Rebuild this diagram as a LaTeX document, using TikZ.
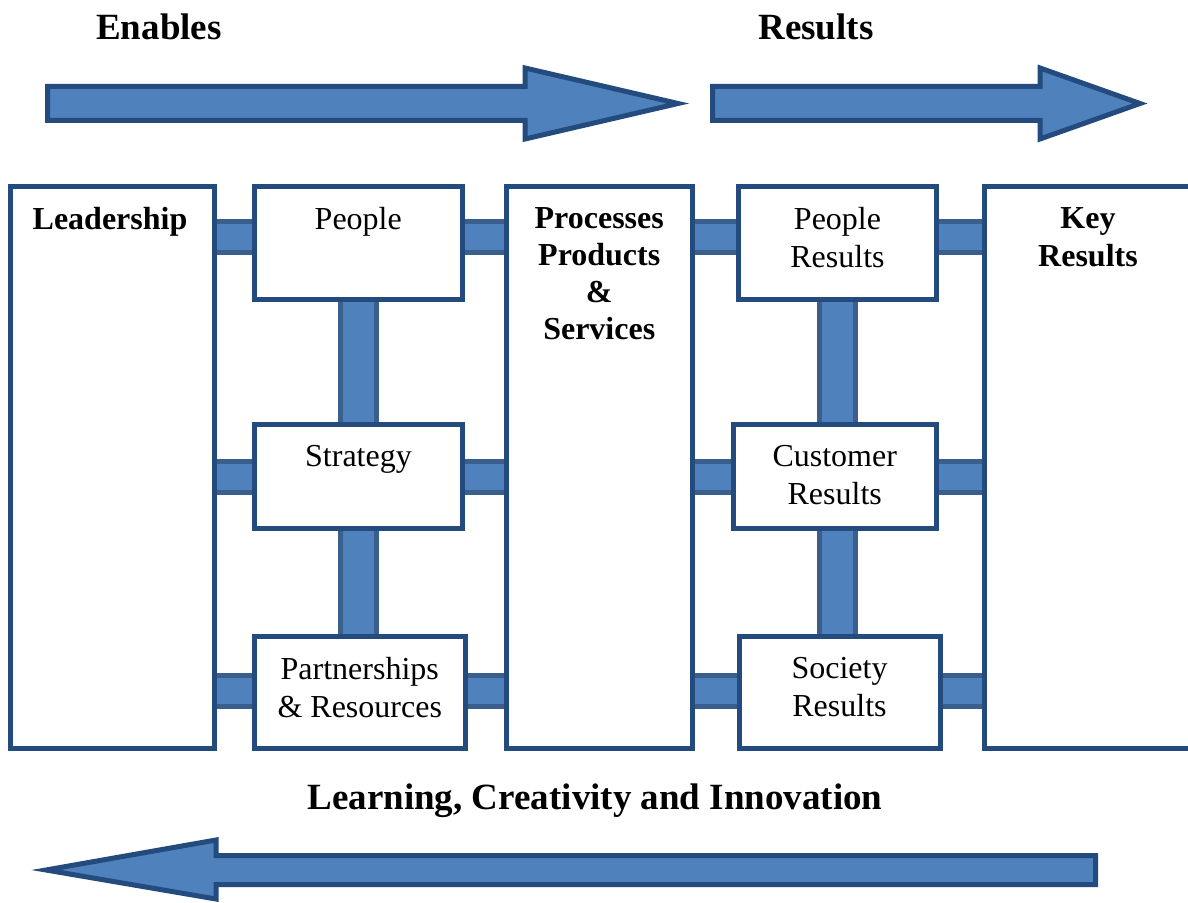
\documentclass[tikz,border=0pt]{standalone}
\usepackage{fontspec}
\setmainfont{Liberation Serif}
\definecolor{cadre}{HTML}{234B7E}
\definecolor{remplir}{HTML}{4F81BD}
\definecolor{lien}{HTML}{3A5F8D}

\begin{document}
\begin{tikzpicture}[x=0.5pt,y=-0.5pt]
% style des boîtes
\tikzstyle{box}=[rectangle,draw=cadre,line width=2.5pt,fill=white,outer sep=0pt,inner sep=0pt]
\tikzstyle{boxtext}=[anchor=north,inner sep=0pt,align=center,font=\fontsize{16}{19}\selectfont]
\tikzstyle{heading}=[anchor=base,inner sep=0pt,font=\fontsize{18.5}{22}\selectfont\bfseries]
% style des liens et des flèches
\tikzstyle{link}=[draw=lien,line width=2.5pt,double=remplir,double distance=13pt,shorten <=1.25pt,shorten >=1.25pt]
\tikzstyle{vlink}=[link,double distance=15.5pt]
\tikzstyle{bigarrow}=[draw=cadre,fill=remplir,line width=2.5pt]

\clip (0,0) rectangle (1188,903);

% grandes flèches
\draw[bigarrow] (47.5,86.5) -- (525,86.5) -- (525,68) -- (678,103.5) -- (525,139) -- (525,120.5) -- (47.5,120.5) -- cycle;
\draw[bigarrow] (712.5,86.5) -- (1040,86.5) -- (1040,68) -- (1140,103.5) -- (1040,139) -- (1040,120.5) -- (712.5,120.5) -- cycle;
\draw[bigarrow] (1095.5,855.5) -- (216,855.5) -- (216,840) -- (46,870) -- (216,899) -- (216,884.5) -- (1095.5,884.5) -- cycle;

% titres
\node[heading] (enables) at (159,39.5) {Enables};
\node[heading] (results) at (816,39.5) {Results};
\node[heading] (learning) at (595,809.5) {Learning, Creativity and Innovation};

% placement des boîtes
\node[box,minimum width=102pt,minimum height=280.5pt] (lead) at (112,467.5) {};
\node[box,minimum width=103.75pt,minimum height=56.25pt] (people) at (358.25,243.25) {};
\node[box,minimum width=104pt,minimum height=52pt] (strat) at (358.5,476.5) {};
\node[box,minimum width=105.25pt,minimum height=55.75pt] (partner) at (359.75,692.25) {};
\node[box,minimum width=92.75pt,minimum height=280.5pt] (proc) at (599.25,467.5) {};
\node[box,minimum width=99pt,minimum height=56.25pt] (peopler) at (837.5,243.25) {};
\node[box,minimum width=101.75pt,minimum height=52pt] (cust) at (834.75,476.5) {};
\node[box,minimum width=100.5pt,minimum height=55.75pt] (society) at (839.5,692.25) {};
\node[box,minimum width=106pt,minimum height=280.5pt] (key) at (1090,467.5) {};

% textes des boîtes
\node[boxtext,font=\fontsize{16}{19}\selectfont\bfseries] (leadtxt) at ([yshift=-10pt,xshift=-1pt]lead.north) {Leadership};
\node[boxtext] (peopletxt) at ([yshift=-10pt]people.north) {People};
\node[boxtext] (strattxt) at ([yshift=-10pt]strat.north) {Strategy};
\node[boxtext] (partnertxt) at ([yshift=-10pt]partner.north) {Partnerships\\\& Resources};
\node[boxtext,font=\fontsize{16}{18.5}\selectfont\bfseries] (proctxt) at ([yshift=-10pt]proc.north) {Processes\\Products\\\&\\Services};
\node[boxtext] (peoplertxt) at ([yshift=-10pt]peopler.north) {People\\Results};
\node[boxtext] (custtxt) at ([yshift=-10pt]cust.north) {Customer\\Results};
\node[boxtext] (societytxt) at ([yshift=-10pt]society.north) {Society\\Results};
\node[boxtext,font=\fontsize{16}{19}\selectfont\bfseries] (keytxt) at ([yshift=-10pt,xshift=-1pt]key.north) {Key\\Results};

% liens entre les boîtes
\coordinate (row1) at (0,237);
\coordinate (row2) at (0,477);
\coordinate (row3) at (0,691);
\draw[link] (lead.east |- row1) -- (people.west |- row1);
\draw[link] (people.east |- row1) -- (proc.west |- row1);
\draw[link] (proc.east |- row1) -- (peopler.west |- row1);
\draw[link] (peopler.east |- row1) -- (key.west |- row1);
\draw[link] (lead.east |- row2) -- (strat.west |- row2);
\draw[link] (strat.east |- row2) -- (proc.west |- row2);
\draw[link] (proc.east |- row2) -- (cust.west |- row2);
\draw[link] (cust.east |- row2) -- (key.west |- row2);
\draw[link] (lead.east |- row3) -- (partner.west |- row3);
\draw[link] (partner.east |- row3) -- (proc.west |- row3);
\draw[link] (proc.east |- row3) -- (society.west |- row3);
\draw[link] (society.east |- row3) -- (key.west |- row3);
\draw[vlink] (people.south) -- (people.south |- strat.north);
\draw[vlink] (strat.south) -- (strat.south |- partner.north);
\draw[vlink] (peopler.south) -- (peopler.south |- cust.north);
\draw[vlink] (peopler.south |- cust.south) -- (peopler.south |- society.north);

\end{tikzpicture}
\end{document}
